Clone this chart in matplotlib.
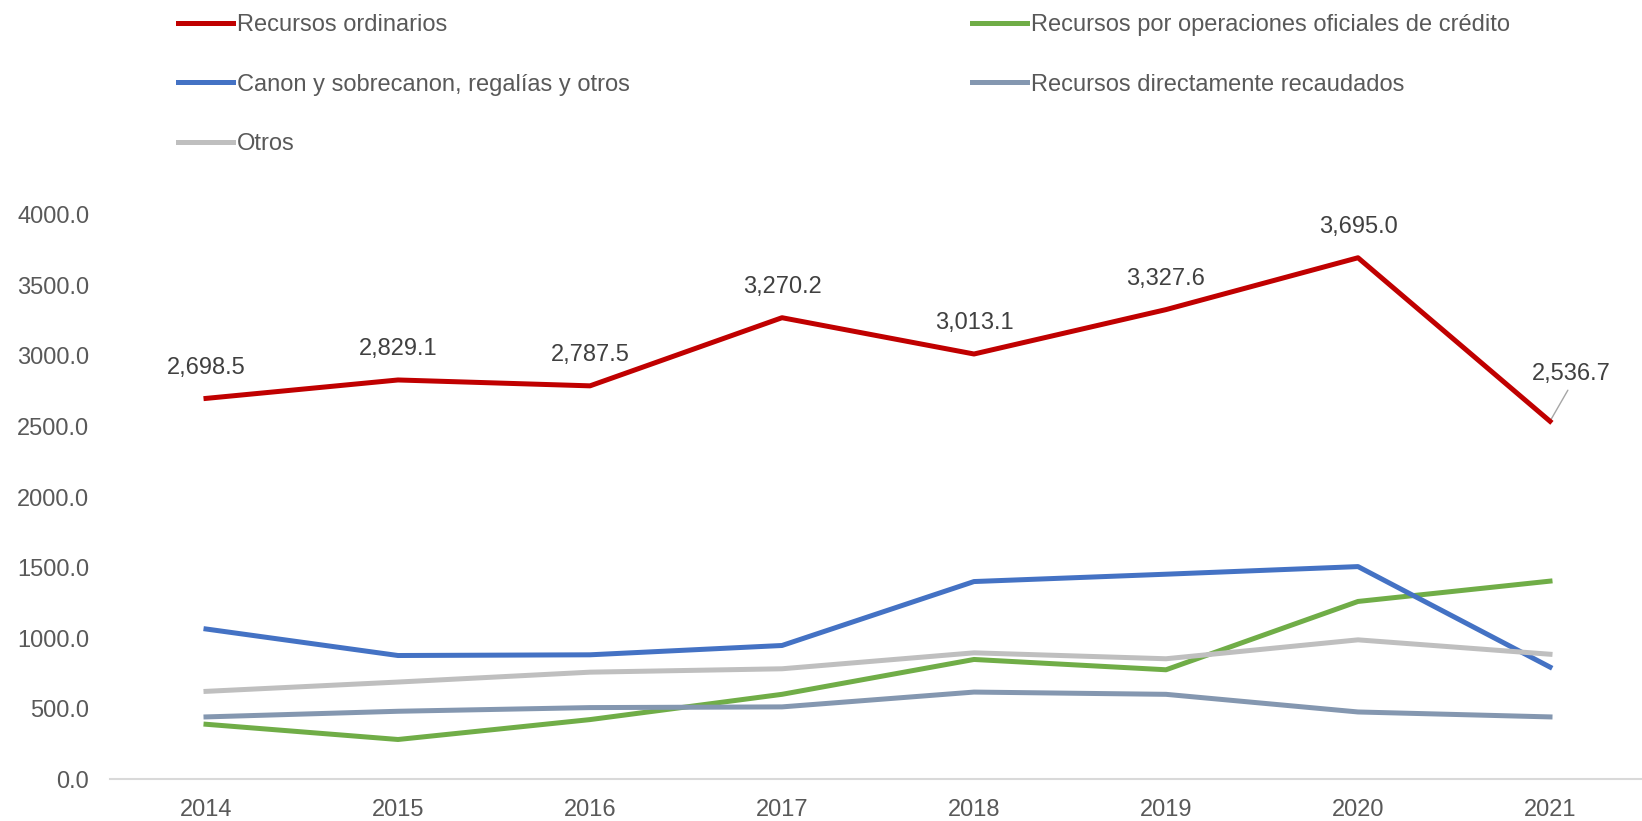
import matplotlib.pyplot as plt

plt.rcParams['font.family'] = ['Liberation Sans', 'DejaVu Sans']

years = ['2014', '2015', '2016', '2017', '2018', '2019', '2020', '2021']
ordinarios = [2698.5, 2829.1, 2787.5, 3270.2, 3013.1, 3327.6, 3695.0, 2536.7]
credito = [390, 282, 423, 602, 849, 776, 1260, 1404]
canon = [1065, 877, 882, 948, 1401, 1453, 1507, 795]
directos = [442, 482, 508, 513, 618, 602, 477, 442]
otros = [623, 689, 759, 783, 896, 854, 988, 886]

W, H = 1642, 821
fig = plt.figure(figsize=(W / 100, H / 100), dpi=100)
ax = fig.add_axes([110 / W, 41.7 / H, 1536 / W, 564.6 / H])

x = range(len(years))
lw = 3.6
l_ord, = ax.plot(x, ordinarios, color='#C00000', lw=lw, label='Recursos ordinarios')
l_cre, = ax.plot(x, credito, color='#70AD47', lw=lw,
                 label='Recursos por operaciones oficiales de crédito')
l_can, = ax.plot(x, canon, color='#4472C4', lw=lw,
                 label='Canon y sobrecanon, regalías y otros')
l_dir, = ax.plot(x, directos, color='#8497B0', lw=lw,
                 label='Recursos directamente recaudados')
l_otr, = ax.plot(x, otros, color='#BFBFBF', lw=lw, label='Otros')
# draw order: keep red on top
l_ord.set_zorder(5)

ax.set_xlim(-0.5, len(years) - 0.5)
ax.set_ylim(0, 4000)
ax.set_xticks(list(x))
ax.set_xticklabels(years)
ax.set_yticks([0, 500, 1000, 1500, 2000, 2500, 3000, 3500, 4000])
ax.set_yticklabels([f'{v:.1f}' for v in ax.get_yticks()])
ax.tick_params(axis='both', length=0, labelsize=17, colors='#595959')
ax.tick_params(axis='y', pad=15)
ax.tick_params(axis='x', pad=14)
for s in ['top', 'right', 'left']:
    ax.spines[s].set_visible(False)
ax.spines['bottom'].set_color('#D9D9D9')
ax.spines['bottom'].set_linewidth(1.5)

# data labels for the red series
for i, v in enumerate(ordinarios):
    if i == len(ordinarios) - 1:
        ax.annotate(f'{v:,.1f}', xy=(i, v), xytext=(15, 34), textcoords='offset points',
                    ha='center', va='center', fontsize=17, color='#404040',
                    arrowprops=dict(arrowstyle='-', color='#A6A6A6', lw=1,
                                    relpos=(0.5, 0), shrinkA=2, shrinkB=0))
    else:
        ax.annotate(f'{v:,.1f}', xy=(i, v), xytext=(0, 22), textcoords='offset points',
                    ha='center', va='center', fontsize=17, color='#404040')

handles = [l_ord, l_can, l_otr, l_cre, l_dir]
fig.legend(handles=handles, labels=[h.get_label() for h in handles], ncol=2,
           loc='upper left', bbox_to_anchor=(178 / W, 1 - 14 / H), frameon=False,
           fontsize=17, labelcolor='#595959', handlelength=2.33, handletextpad=0.17,
           labelspacing=1.59, columnspacing=14.5, borderpad=0, borderaxespad=0)

fig.savefig('out.png', dpi=100)
